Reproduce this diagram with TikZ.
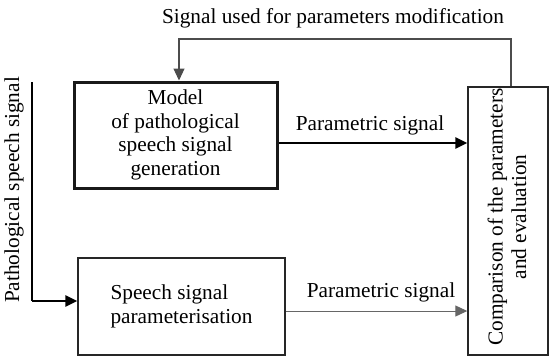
\documentclass[tikz,border=0pt]{standalone}
\usepackage{fontspec}
\setmainfont{Liberation Serif}
\newfontfamily\tnr{Liberation Serif}
\usetikzlibrary{arrows.meta}
\begin{document}
\begin{tikzpicture}[x=1pt,y=-1pt,
  every node/.style={font=\tnr\fontsize{21.3}{23.5}\selectfont, inner sep=0pt},
  boxthick/.style={draw=black!90, line width=3pt, minimum width=203pt, minimum height=106pt, align=center},
  boxthin/.style={draw=black!85, line width=1.4pt},
  tip/.style={-{Triangle[length=12pt,width=11pt]}},
  lbl/.style={anchor=center}]
\useasboundingbox (0,0) rectangle (549,356);
% boxes
\node[boxthick] (model) at (175.5,135) {Model\\of pathological\\speech signal\\generation};
\node[boxthin, minimum width=207pt, minimum height=97pt, align=left] (speech) at (181.5,306.5) {Speech signal\\parameterisation};
\node[boxthin, minimum width=80pt, minimum height=268pt] (comp) at (508,221) {};
\node[rotate=90, align=center] (comptext) at (507,217) {Comparison of the parameters\\and evaluation};
% feedback
\coordinate (fbR) at (511,39);
\coordinate (fbL) at (179,39);
\draw[tip, draw=black!70, line width=1.2pt] (comp.north -| fbR) -- (fbR) -- (fbL) -- (model.north -| fbL);
\node (fbtext) at (333,18) {Signal used for parameters modification};
% pathological input
\coordinate (pTop) at (32,82);
\coordinate (pCorner) at (32,301);
\draw[line width=1.4pt] (pTop) -- (pCorner);
\draw[tip, line width=2.4pt] (pCorner) -- (pCorner -| speech.west);
\node[rotate=90] (ptext) at (14,190) {Pathological speech signal};
% parametric arrows
\coordinate (a1) at (0,143);
\coordinate (a2) at (0,311);
\draw[tip, line width=2.4pt] (model.east |- a1) -- (comp.west |- a1);
\node (p1) at (370,125) {Parametric signal};
\draw[tip, draw=black!60, line width=1pt] (speech.east |- a2) -- (comp.west |- a2);
\node (p2) at (381,292) {Parametric signal};
\end{tikzpicture}
\end{document}
